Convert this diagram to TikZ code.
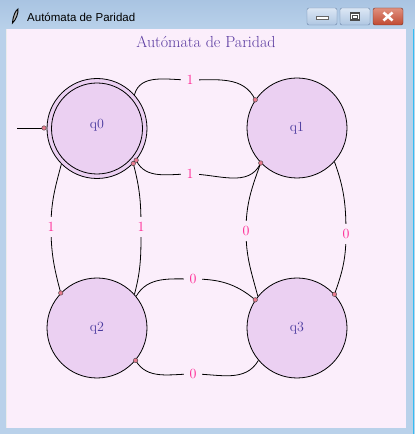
\documentclass[tikz,border=0pt]{standalone}
\usepackage{fontspec}
\newfontfamily\uifont{Liberation Sans}
\definecolor{winblue}{HTML}{B9D1EA}
\definecolor{wintop}{HTML}{A9C4E2}
\definecolor{canvas}{HTML}{FBEEFB}
\definecolor{statefill}{HTML}{EBD0F2}
\definecolor{labelpink}{HTML}{FF2090}
\definecolor{statetext}{HTML}{4A3A9E}
\definecolor{titlecol}{HTML}{5A3AA0}
\definecolor{dotfill}{HTML}{E87A8E}
\definecolor{btnlight}{HTML}{DCE7F4}
\definecolor{btndark}{HTML}{AFC6E2}
\definecolor{btnedge}{HTML}{6A83A6}
\definecolor{closelight}{HTML}{E0907E}
\definecolor{closedark}{HTML}{C04A32}
\tikzset{
  state/.style={circle,draw=black,fill=statefill,minimum size=100pt,inner sep=0pt,
    line width=0.8pt,font=\fontsize{14}{14}\selectfont,text=statetext},
  edge/.style={draw=black,line width=0.8pt},
  elabel/.style={fill=canvas,inner xsep=6pt,inner ysep=5pt,text=labelpink,font=\fontsize{14}{14}\selectfont},
  enddot/.style={circle,draw=black!75,fill=dotfill,inner sep=0pt,minimum size=4.5pt,line width=0.4pt},
  winbtn/.style={draw=btnedge,rounded corners=2pt,top color=btnlight,bottom color=btndark,
    minimum width=30pt,minimum height=17pt,inner sep=0pt},
}
\begin{document}
\begin{tikzpicture}[x=1pt,y=1pt]
\useasboundingbox (0,0) rectangle (415,434);
% window frame
\fill[winblue] (0,0) rectangle (415,434);
\shade[top color=wintop,bottom color=winblue] (0,405) rectangle (415,434);
\fill[cyan!80] (412.5,0) rectangle (414,405);
\fill[black!8] (6,6) rectangle (8,405);
\fill[canvas] (7,6) rectangle (406,405);
% title bar
\node[font=\uifont\fontsize{11.5}{12}\selectfont,anchor=west,inner sep=0pt] (wtitle) at (27,417) {Autómata de Paridad};
\draw[black,line width=0.9pt,fill=white!70!black] (12.5,411) .. controls (13,419) and (16,424) .. (18,425)
  .. controls (18.5,421) and (16,414) .. (12.5,411) -- cycle;
\node[winbtn] (bmin) at (322,417.5) {};
\fill[white,draw=black!60,line width=0.4pt] (316,414.5) rectangle (328,418);
\node[winbtn] (bmax) at (355,417.5) {};
\draw[black!70,line width=1.2pt,fill=white] (350.5,414) rectangle (359.5,421);
\draw[black!70,line width=0.8pt] (352.5,416) rectangle (357.5,419);
\node[winbtn,draw=closedark!60!black,top color=closelight,bottom color=closedark] (bclose) at (388,417.5) {};
\draw[white,line width=2.6pt] (383.5,413.5) -- (392.5,421.5) (383.5,421.5) -- (392.5,413.5);
% canvas title
\node[text=titlecol,font=\fontsize{16}{16}\selectfont] (title) at (206,392.5) {Autómata de Paridad};
% states
\node[state] (q0) at (97,305.5) {};
\draw[line width=0.8pt] (q0.center) circle (45.5pt);
\node[text=statetext,font=\fontsize{14}{14}\selectfont] (t0) at (97,309) {q0};
\node[state] (q1) at (297,306) {q1};
\node[state] (q2) at (97,106) {q2};
\node[state] (q3) at (297,106) {q3};
% label positions
\coordinate (l01) at (190,354);
\coordinate (l10) at (190,260);
\coordinate (l02) at (51,207);
\coordinate (l20) at (141,207);
\coordinate (l23) at (193,155);
\coordinate (l32) at (193,60);
\coordinate (l31) at (246,203);
\coordinate (l13) at (346,200);
\coordinate (s0) at (17,306);
\coordinate (s1) at (44,306);
% edges
\draw[edge] (s0) -- (s1);
\draw[edge] (q0.42) to[out=75,in=180] (l01) to[out=0,in=115] (q1.146);
\draw[edge] (q1.224) to[out=245,in=0] (l10) to[out=180,in=295] (q0.321);
\draw[edge] (q0.225) to[out=255,in=90] (l02) to[out=270,in=105] (q2.136);
\draw[edge] (q2.42) to[out=75,in=270] (l20) to[out=90,in=285] (q0.316);
\draw[edge] (q2.39) to[out=60,in=180] (l23) to[out=0,in=140] (q3.146);
\draw[edge] (q3.220) to[out=240,in=0] (l32) to[out=180,in=300] (q2.320);
\draw[edge] (q3.141) to[out=105,in=270] (l31) to[out=90,in=250] (q1.224);
\draw[edge] (q1.318) to[out=290,in=90] (l13) to[out=270,in=70] (q3.42);
% end dots
\node[enddot] (d0) at (s1) {};
\node[enddot] (d1) at (q1.146) {};
\node[enddot] (d2) at (q0.321) {};
\node[enddot] (d3) at (q2.136) {};
\node[enddot] (d4) at (q0.316) {};
\node[enddot] (d5) at (q3.146) {};
\node[enddot] (d6) at (q2.320) {};
\node[enddot] (d7) at (q1.224) {};
\node[enddot] (d8) at (q3.42) {};
% edge labels
\node[elabel] (e01) at (l01) {1};
\node[elabel] (e10) at (l10) {1};
\node[elabel] (e02) at (l02) {1};
\node[elabel] (e20) at (l20) {1};
\node[elabel] (e23) at (l23) {0};
\node[elabel] (e32) at (l32) {0};
\node[elabel] (e31) at (l31) {0};
\node[elabel] (e13) at (l13) {0};
\end{tikzpicture}
\end{document}
